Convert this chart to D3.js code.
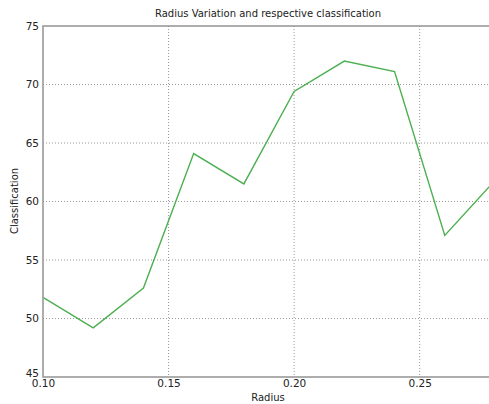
<!DOCTYPE html>
<html><head><meta charset="utf-8">
<script src="https://cdn.jsdelivr.net/npm/d3@7"></script>
<style>body{margin:0;background:#fff;overflow:hidden}svg{display:block}text{font-family:"DejaVu Sans",sans-serif;fill:#222}</style>
</head><body><svg id="c" width="489" height="404"></svg>
<script>
const radius = [0.10, 0.12, 0.14, 0.16, 0.18, 0.20, 0.22, 0.24, 0.26, 0.28];
const classification = [51.8, 49.2, 52.6, 64.1, 61.5, 69.4, 72.0, 71.1, 57.1, 61.8];
const xTicks = [0.10, 0.15, 0.20, 0.25];
const yTicks = [45, 50, 55, 60, 65, 70, 75];
const title = "Radius Variation and respective classification";

const svg = d3.select("#c");
const L = 43, T = 26, B = 377, R = 495;
const x = d3.scaleLinear().domain([0.10, 0.28]).range([L, R]);
const y = d3.scaleLinear().domain([45, 75]).range([B, T]);

// grid
svg.append("g").selectAll("line").data(xTicks.filter(d => d > 0.10)).join("line")
  .attr("x1", d => x(d)).attr("x2", d => x(d)).attr("y1", T).attr("y2", B)
  .attr("stroke", "#999").attr("stroke-width", 1).attr("stroke-dasharray", "1,2");
svg.append("g").selectAll("line").data(yTicks.filter(d => d > 45 && d < 75)).join("line")
  .attr("y1", d => y(d)).attr("y2", d => y(d)).attr("x1", L).attr("x2", R)
  .attr("stroke", "#999").attr("stroke-width", 1).attr("stroke-dasharray", "1,2");

// line
svg.append("path").datum(radius.map((r, i) => [r, classification[i]]))
  .attr("fill", "none").attr("stroke", "#4caf50").attr("stroke-width", 1.4)
  .attr("d", d3.line().x(d => x(d[0])).y(d => y(d[1])));

// spines
svg.append("rect").attr("x", L).attr("y", T).attr("width", R - L).attr("height", B - T)
  .attr("fill", "none").attr("stroke", "#999").attr("stroke-width", 1.6);

// axes labels via d3 axes
const xa = svg.append("g").attr("transform", `translate(0,${B})`)
  .call(d3.axisBottom(x).tickValues(xTicks).tickFormat(d3.format(".2f")).tickSize(0).tickPadding(3));
xa.select(".domain").remove();
xa.selectAll("text").attr("font-size", 10.5).attr("font-family", "DejaVu Sans").attr("fill", "#222");

const ya = svg.append("g").attr("transform", `translate(${L},0)`)
  .call(d3.axisLeft(y).tickValues(yTicks).tickSize(0).tickPadding(4));
ya.select(".domain").remove();
ya.selectAll("text").attr("font-size", 10.5).attr("font-family", "DejaVu Sans").attr("fill", "#222")
  .attr("dy", d => d === 45 ? "-0.05em" : "0.32em");

svg.append("text").attr("x", 268).attr("y", 17).attr("text-anchor", "middle")
  .attr("font-size", 10).text(title);
svg.append("text").attr("x", 268).attr("y", 401).attr("text-anchor", "middle")
  .attr("font-size", 10).text("Radius");
svg.append("text").attr("transform", "translate(18,201) rotate(-90)").attr("text-anchor", "middle")
  .attr("font-size", 10).text("Classification");
</script></body></html>
